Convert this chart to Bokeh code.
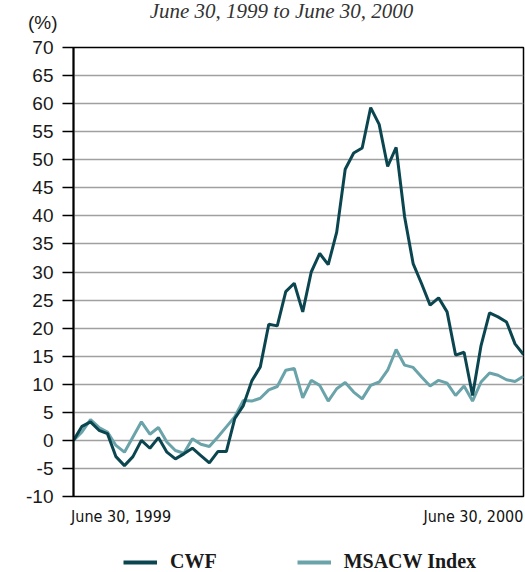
from bokeh.plotting import figure
from bokeh.layouts import column
from bokeh.models import Legend, LegendItem, FixedTicker, Range1d, ColumnDataSource
from bokeh.core.properties import value
from bokeh.embed import file_html
from bokeh.resources import INLINE

# ---- data (weekly returns, %) ----
weeks = list(range(54))
cwf = [0.0, 2.5, 3.3, 1.8, 1.2, -2.9, -4.5, -2.9, 0.0, -1.4,
       0.5, -2.1, -3.3, -2.4, -1.4, -2.7, -4.0, -2.0, -2.0, 3.9,
       6.2, 10.6, 13.1, 20.7, 20.4, 26.5, 28.0, 22.9, 30.0, 33.3,
       31.3, 37.1, 48.3, 51.2, 52.1, 59.3, 56.3, 48.8, 52.2, 39.8,
       31.5, 27.9, 24.1, 25.4, 22.9, 15.2, 15.7, 8.0, 16.9, 22.7,
       22.0, 21.1, 17.2, 15.3]
msacw = [0.0, 1.5, 3.7, 2.3, 1.5, -0.9, -2.1, 0.6, 3.3, 1.1,
         2.3, -0.3, -1.8, -2.3, 0.3, -0.7, -1.1, 0.6, 2.4, 4.2,
         7.1, 7.0, 7.5, 9.0, 9.6, 12.5, 12.8, 7.6, 10.7, 9.8,
         7.0, 9.2, 10.3, 8.6, 7.4, 9.8, 10.4, 12.5, 16.2, 13.4,
         13.0, 11.3, 9.7, 10.7, 10.2, 8.0, 9.7, 7.0, 10.4, 12.0,
         11.6, 10.8, 10.5, 11.4]
y_ticks = list(range(-10, 75, 5))
y_tick_labels = {t: str(t) for t in y_ticks}   # plain hyphen for negatives
date_labels = ["June 30, 1999", "June 30, 2000"]
date_label_pos = [5.6, 47.1]   # label centres, so text sits flush with frame edges
title_text = "June 30, 1999 to June 30, 2000"
unit_text = "(%)"
series_names = ["CWF", "MSACW Index"]

CWF_COLOR = "#0b4650"
MSACW_COLOR = "#6aa3a9"
TEXT_COLOR = "#1a1a1a"

src = ColumnDataSource(dict(x=weeks, cwf=cwf, msacw=msacw))

# ---- header strip: title and unit label ----
h = figure(width=525, height=37, output_backend="svg", toolbar_location=None,
           x_range=Range1d(weeks[0], weeks[-1]), y_range=Range1d(0, 1),
           min_border_left=73, min_border_right=2, min_border_top=0,
           min_border_bottom=0)
h.title.visible = False
h.xaxis.visible = False
h.grid.visible = False
h.outline_line_color = None
hy = h.yaxis[0]
hy.ticker = FixedTicker(ticks=[0.405])
hy.major_label_overrides = {0.405: unit_text}
hy.major_tick_out = 0
hy.major_tick_in = 0
hy.minor_tick_out = 0
hy.minor_tick_in = 0
hy.axis_line_color = None
hy.major_label_standoff = 16
hy.major_label_text_font = "Liberation Sans"
hy.major_label_text_font_size = "19px"
hy.major_label_text_color = TEXT_COLOR
h.text(x=[24.5], y=[0.71], text=[title_text], text_align="center",
       text_baseline="alphabetic", text_font=value("Liberation Serif"),
       text_font_style="italic", text_font_size="21px", text_color="#333333")

# ---- main chart ----
p = figure(width=525, height=499, output_backend="svg", toolbar_location=None,
           x_range=Range1d(weeks[0], weeks[-1]), y_range=Range1d(-10, 70),
           min_border_left=73, min_border_right=2, min_border_top=10,
           min_border_bottom=40)
p.title.visible = False

xax = p.xaxis[0]
xax.ticker = FixedTicker(ticks=date_label_pos)
xax.major_label_overrides = {date_label_pos[0]: date_labels[0],
                             date_label_pos[1]: date_labels[1]}
xax.major_tick_out = 0
xax.major_tick_in = 0
xax.minor_tick_out = 0
xax.minor_tick_in = 0
xax.axis_line_color = None
xax.major_label_standoff = 10
xax.major_label_text_font = "DejaVu Sans Condensed"
xax.major_label_text_font_size = "16px"
xax.major_label_text_color = "#111111"
p.xgrid.visible = False

yax = p.yaxis[0]
yax.ticker = FixedTicker(ticks=y_ticks)
yax.major_label_overrides = y_tick_labels
yax.major_label_text_font = "Liberation Sans"
yax.major_label_text_font_size = "19px"
yax.major_label_text_color = TEXT_COLOR
yax.major_tick_out = 11
yax.major_tick_in = 0
yax.minor_tick_out = 0
yax.minor_tick_in = 0
yax.major_label_standoff = 9
yax.axis_line_width = 2
yax.axis_line_color = "black"
yax.major_tick_line_width = 1.5
yax.major_tick_line_color = "black"

p.ygrid.ticker = FixedTicker(ticks=y_ticks)
p.ygrid.grid_line_color = "#a0a0a0"
p.ygrid.grid_line_width = 1.5

p.outline_line_color = "black"
p.outline_line_width = 1.5
p.outline_line_alpha = 1.0

p.line("x", "msacw", source=src, line_color=MSACW_COLOR, line_width=3)
p.line("x", "cwf", source=src, line_color=CWF_COLOR, line_width=3)

# ---- legend strip below the chart (series kept out of view, only keys show) ----
lg = figure(width=525, height=36, output_backend="svg", toolbar_location=None,
            x_range=Range1d(weeks[0], weeks[-1]), y_range=Range1d(100, 101),
            min_border_left=73, min_border_right=2, min_border_top=0,
            min_border_bottom=0)
lg.title.visible = False
lg.axis.visible = False
lg.grid.visible = False
lg.outline_line_color = None
k1 = lg.line("x", "cwf", source=src, line_color=CWF_COLOR, line_width=4)
k2 = lg.line("x", "msacw", source=src, line_color=MSACW_COLOR, line_width=4)
legend = Legend(items=[LegendItem(label=series_names[0], renderers=[k1]),
                       LegendItem(label=series_names[1], renderers=[k2])],
                orientation="horizontal", location=(50, -1),
                border_line_color=None, background_fill_alpha=0,
                padding=0, margin=0, spacing=80, glyph_width=34, glyph_height=20,
                label_standoff=13, label_text_font="Liberation Serif",
                label_text_font_style="bold", label_text_font_size="20px",
                label_text_color=TEXT_COLOR)
lg.add_layout(legend)

layout = column(h, p, lg, spacing=0)
open("out.html", "w").write(file_html(layout, INLINE))
